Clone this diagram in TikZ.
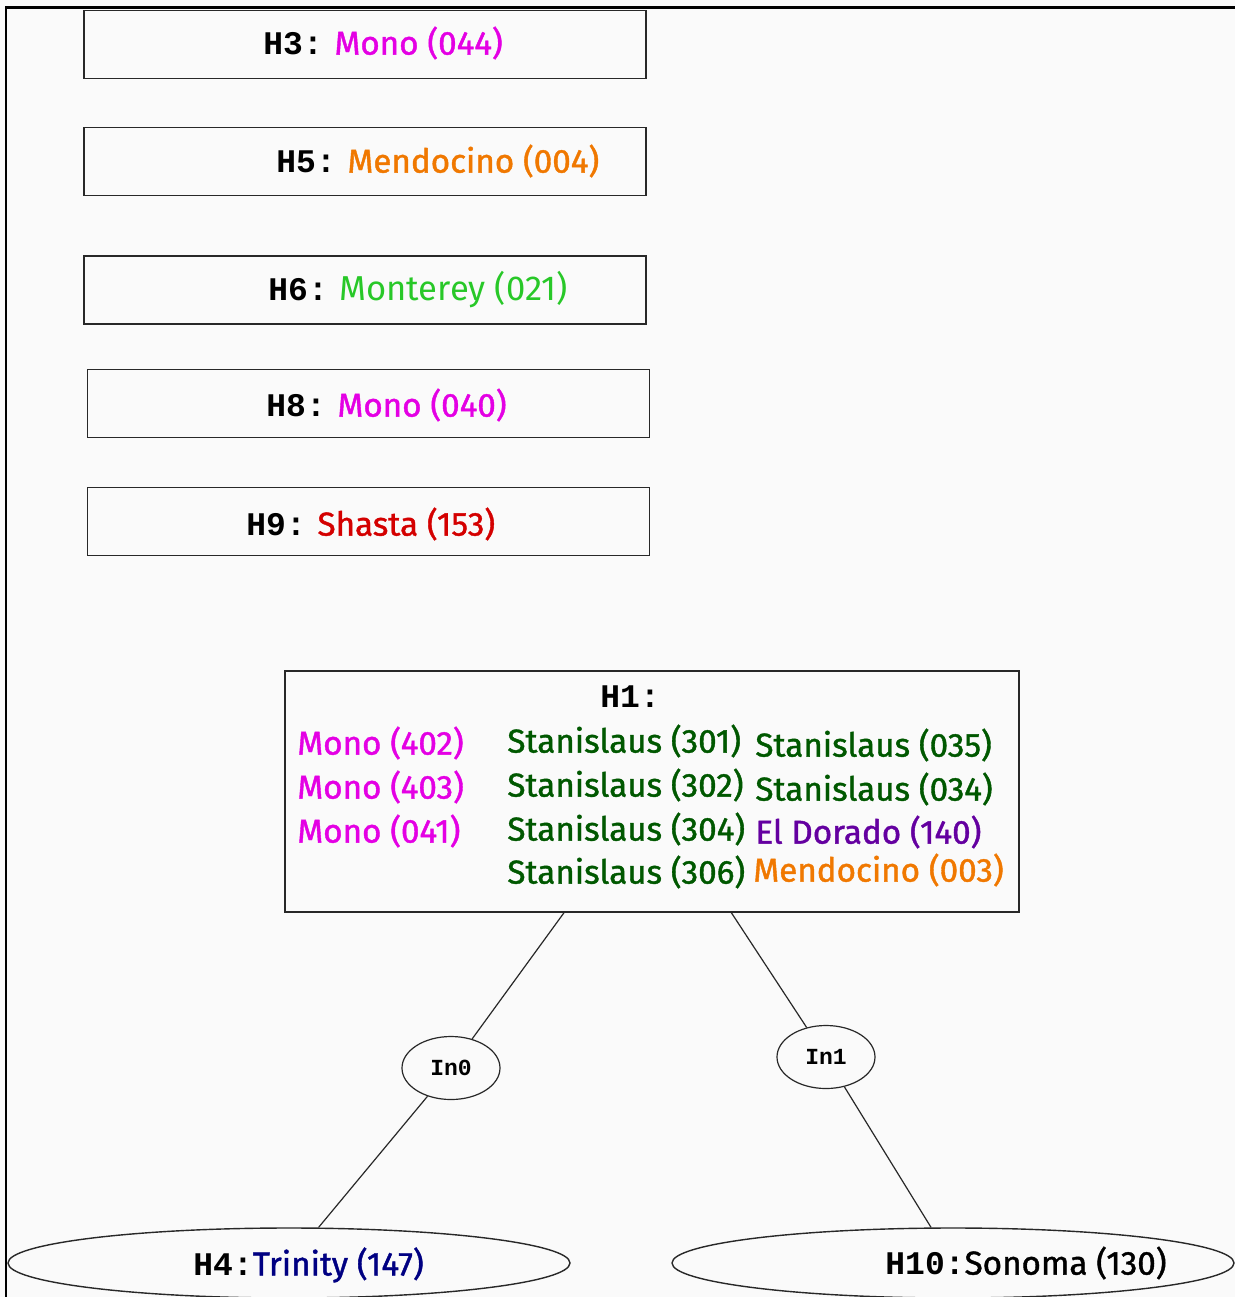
\documentclass[tikz,border=0pt]{standalone}
\usepackage{fontspec}
\setmainfont{Fira Sans}
\newfontfamily\medfam{Fira Sans}[FakeBold=1.2]
\newfontfamily\monofam{Liberation Mono}
\usetikzlibrary{shapes.geometric}
\definecolor{bgc}{RGB}{250,250,250}
\definecolor{cmono}{RGB}{228,0,228}
\definecolor{cmendo}{RGB}{240,120,0}
\definecolor{cmonte}{RGB}{40,200,40}
\definecolor{cshasta}{RGB}{212,0,0}
\definecolor{cstan}{RGB}{0,88,0}
\definecolor{celdo}{RGB}{100,0,160}
\definecolor{ctrin}{RGB}{0,0,130}
\definecolor{cline}{RGB}{40,40,40}
\newcommand{\hl}[1]{{\monofam\bfseries\fontsize{16.5}{19}\selectfont #1}}
\tikzset{
  hbox/.style={draw=cline, line width=0.7pt, rectangle, inner sep=0pt, minimum width=281pt, minimum height=34pt},
  lbl/.style={anchor=west, inner sep=0pt, font=\medfam\fontsize{16.6}{19}\selectfont},
  smallell/.style={draw=cline, line width=0.6pt, ellipse, inner sep=0pt, minimum width=49pt, minimum height=31.5pt, font=\monofam\bfseries\fontsize{11.5}{13}\selectfont},
  bigell/.style={draw=cline, line width=0.7pt, ellipse, inner sep=0pt, minimum width=281pt, minimum height=35pt},
  edge/.style={draw=cline, line width=0.6pt}
}
\begin{document}
\begin{tikzpicture}[x=0.5pt, y=-0.5pt]
\useasboundingbox (0,0) rectangle (1235,1297);
\fill[bgc] (0,0) rectangle (1235,1297);
\draw[line width=1.5pt, black] (5,7) -- (1235,7);
\draw[line width=1.1pt, black] (6,7) -- (6,1297);

% top boxes
\node[hbox] (H3) at (365,44.5) {};
\node[lbl] (t3) at (263,43) {\hl{H3:} \textcolor{cmono}{Mono (044)}};
\node[hbox] (H5) at (365,161.5) {};
\node[lbl] (t5) at (276,161) {\hl{H5:} \textcolor{cmendo}{Mendocino (004)}};
\node[hbox] (H6) at (365,290) {};
\node[lbl] (t6) at (268,290) {\hl{H6:} \textcolor{cmonte}{\rmfamily\fontsize{17.3}{19}\selectfont Monterey (021)}};
\node[hbox] (H8) at (368.5,403.5) {};
\node[lbl] (t8) at (266,405) {\hl{H8:} \textcolor{cmono}{Mono (040)}};
\node[hbox] (H9) at (368.5,521.5) {};
\node[lbl] (t9) at (246,524) {\hl{H9:} \textcolor{cshasta}{Shasta (153)}};

% H1 box
\node[draw=cline, line width=0.7pt, rectangle, inner sep=0pt, minimum width=367pt, minimum height=120.5pt] (H1) at (652,791.5) {};
\node[lbl] (t1) at (600,697) {\hl{H1:}};
\node[lbl, text=cmono] (a1) at (297,743) {Mono (402)};
\node[lbl, text=cmono] (a2) at (297,787) {Mono (403)};
\node[lbl, text=cmono] (a3) at (297,831) {Mono (041)};
\node[lbl, text=cstan] (b1) at (507,741) {Stanislaus (301)};
\node[lbl, text=cstan] (b2) at (507,785) {Stanislaus (302)};
\node[lbl, text=cstan] (b3) at (507,829) {Stanislaus (304)};
\node[lbl, text=cstan] (b4) at (507,872) {Stanislaus (306)};
\node[lbl, text=cstan] (c1) at (755,745) {Stanislaus (035)};
\node[lbl, text=cstan] (c2) at (755,789) {Stanislaus (034)};
\node[lbl, text=celdo] (c3) at (755,832) {El Dorado (140)};
\node[lbl, text=cmendo] (c4) at (753,870) {Mendocino (003)};

% intermediate nodes
\node[smallell] (In0) at (451,1068) {In0};
\node[smallell] (In1) at (826,1057) {In1};

% leaves
\node[bigell] (H4) at (289,1263) {};
\node[lbl] (t4) at (193,1265) {\hl{H4:}\textcolor{ctrin}{Trinity (147)}};
\node[bigell] (H10) at (953,1263) {};
\node[lbl] (t10) at (885,1263) {\hl{H10:}Sonoma (130)};

% edges
\draw[edge] (H1) -- (In0);
\draw[edge] (In0) -- (H4);
\draw[edge] (H1) -- (In1);
\draw[edge] (In1) -- (H10);
\end{tikzpicture}
\end{document}
